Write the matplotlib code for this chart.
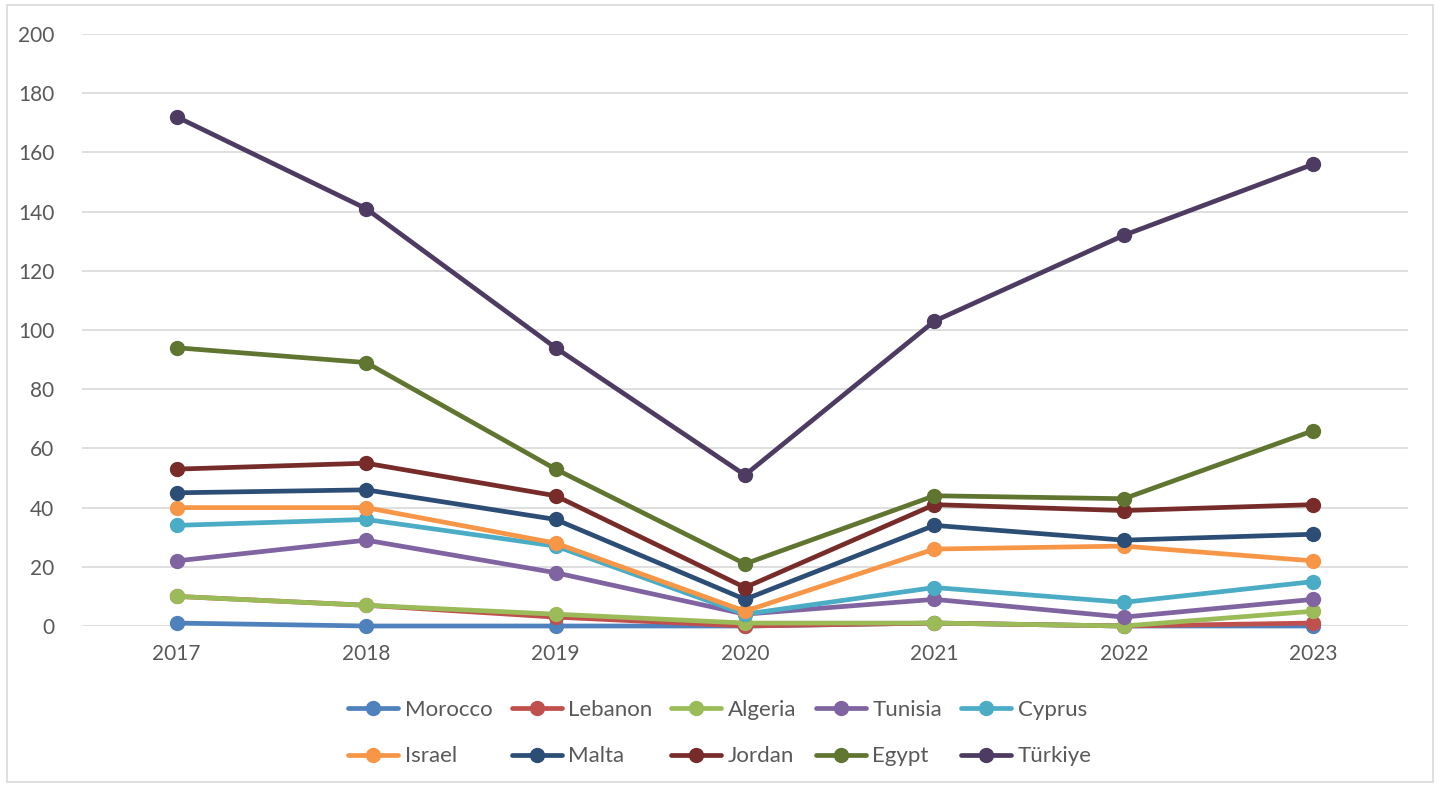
import matplotlib
matplotlib.use("Agg")
import matplotlib.pyplot as plt
from matplotlib.patches import Rectangle

years = ["2017", "2018", "2019", "2020", "2021", "2022", "2023"]
countries = ["Morocco", "Lebanon", "Algeria", "Tunisia", "Cyprus",
             "Israel", "Malta", "Jordan", "Egypt", "Türkiye"]
morocco = [1, 0, 0, 0, 1, 0, 0]
lebanon = [10, 7, 3, 0, 1, 0, 1]
algeria = [10, 7, 4, 1, 1, 0, 5]
tunisia = [22, 29, 18, 4, 9, 3, 9]
cyprus = [34, 36, 27, 4, 13, 8, 15]
israel = [40, 40, 28, 5, 26, 27, 22]
malta = [45, 46, 36, 9, 34, 29, 31]
jordan = [53, 55, 44, 13, 41, 39, 41]
egypt = [94, 89, 53, 21, 44, 43, 66]
turkiye = [172, 141, 94, 51, 103, 132, 156]
series = [morocco, lebanon, algeria, tunisia, cyprus,
          israel, malta, jordan, egypt, turkiye]
colors = ["#4F81BD", "#C0504D", "#9BBB59", "#8064A2", "#4BACC6",
          "#F79646", "#2C4D75", "#772C2A", "#5F7530", "#4D3B62"]
yticks = [0, 20, 40, 60, 80, 100, 120, 140, 160, 180, 200]

plt.rcParams['font.family'] = ['Lato', 'DejaVu Sans']
W, H = 1440, 787
fig = plt.figure(figsize=(W / 100, H / 100), dpi=100)
fig.patches.append(Rectangle((7 / W, 5 / H), (1433 - 7) / W, (782 - 5) / H,
                             transform=fig.transFigure, fill=False,
                             edgecolor="#D9D9D9", linewidth=1.2))

ax = fig.add_axes([82 / W, 1 - 626 / H, (1408 - 82) / W, (626 - 34) / H])
x = list(range(len(years)))
handles = []
for name, vals, c in zip(countries, series, colors):
    h, = ax.plot(x, vals, color=c, linewidth=3.4, marker="o", markersize=10,
                 label=name, solid_capstyle="round", clip_on=False)
    handles.append(h)

ax.set_xlim(-0.5, len(years) - 0.5)
ax.set_ylim(0, 200)
ax.set_yticks(yticks)
ax.set_yticklabels([str(v) for v in yticks])
ax.set_xticks(x)
ax.set_xticklabels(years)
ax.grid(axis="y", color="#D9D9D9", linewidth=1.2)
ax.set_axisbelow(True)
for s in ax.spines.values():
    s.set_visible(False)
ax.tick_params(axis="both", length=0, labelsize=15, colors="#595959")
ax.tick_params(axis="y", pad=20)
ax.tick_params(axis="x", pad=13)

order = [0, 5, 1, 6, 2, 7, 3, 8, 4, 9]
leg = fig.legend([handles[i] for i in order], [countries[i] for i in order],
                 ncol=5, loc="center", bbox_to_anchor=(0.5, 1 - 733 / H),
                 frameon=False, fontsize=16, handlelength=2.25,
                 handletextpad=0.3, columnspacing=0.85, labelspacing=1.2,
                 labelcolor="#595959")

fig.savefig("out.png", dpi=100)
